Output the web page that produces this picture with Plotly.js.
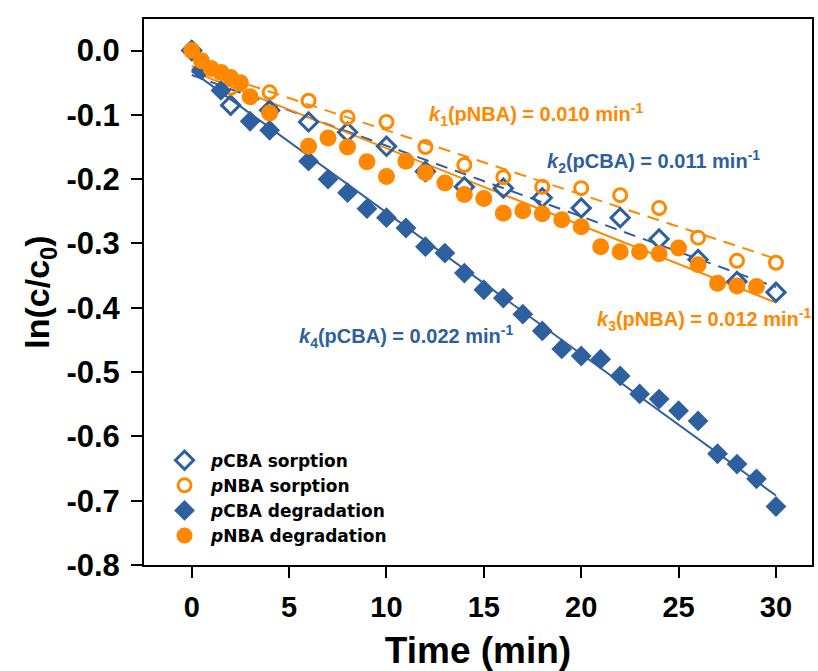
<!DOCTYPE html>
<html>
<head>
<meta charset="utf-8">
<script src="https://cdn.plot.ly/plotly-3.0.1.min.js"></script>
<style>html,body{margin:0;padding:0;background:#fff;}#chart{width:818px;height:671px;}</style>
</head>
<body>
<div id="chart"></div>
<script>
// ---- data ----
const timeSorpCBA = [0, 2, 4, 6, 8, 10, 12, 14, 16, 18, 20, 22, 24, 26, 28, 30];
const lnSorpCBA   = [0, -0.085, -0.093, -0.111, -0.127, -0.149, -0.188, -0.212, -0.214, -0.229, -0.245, -0.260, -0.293, -0.325, -0.359, -0.376];

const timeSorpNBA = [0, 2, 4, 6, 8, 10, 12, 14, 16, 18, 20, 22, 24, 26, 28, 30];
const lnSorpNBA   = [0, -0.058, -0.065, -0.078, -0.104, -0.111, -0.150, -0.178, -0.197, -0.212, -0.214, -0.225, -0.245, -0.291, -0.327, -0.330];

const timeDegCBA = [0, 0.5, 1.5, 3, 4, 6, 7, 8, 9, 10, 11, 12, 13, 14, 15, 16, 17, 18, 19, 20, 21, 22, 23, 24, 25, 26, 27, 28, 29, 30];
const lnDegCBA   = [0, -0.030, -0.062, -0.110, -0.124, -0.172, -0.200, -0.221, -0.246, -0.260, -0.276, -0.305, -0.315, -0.346, -0.372, -0.385, -0.410, -0.436, -0.464, -0.475, -0.480, -0.506, -0.534, -0.542, -0.560, -0.576, -0.627, -0.643, -0.666, -0.709];

const timeDegNBA = [0, 0.5, 1, 1.5, 2, 2.5, 3, 4, 6, 7, 8, 9, 10, 11, 12, 13, 14, 15, 16, 17, 18, 19, 20, 21, 22, 23, 24, 25, 26, 27, 28, 29];
const lnDegNBA   = [0, -0.016, -0.028, -0.034, -0.042, -0.050, -0.072, -0.097, -0.149, -0.136, -0.150, -0.173, -0.196, -0.172, -0.190, -0.206, -0.224, -0.230, -0.253, -0.249, -0.254, -0.263, -0.274, -0.305, -0.313, -0.313, -0.316, -0.307, -0.333, -0.362, -0.366, -0.367];

// linear fit lines (end values)
const fitTime = [0, 30];
const fitK1 = [-0.024, -0.324]; // pNBA sorption
const fitK2 = [-0.038, -0.368]; // pCBA sorption
const fitK3 = [-0.032, -0.392]; // pNBA degradation
const fitK4 = [-0.032, -0.692]; // pCBA degradation

const legendNames = ['<i>p</i>CBA sorption', '<i>p</i>NBA sorption', '<i>p</i>CBA degradation', '<i>p</i>NBA degradation'];
const rateLabels = [
  '<b><i>k</i><sub>1</sub>(pNBA) = 0.010 min<sup>-1</sup></b>',
  '<b><i>k</i><sub>2</sub>(pCBA) = 0.011 min<sup>-1</sup></b>',
  '<b><i>k</i><sub>3</sub>(pNBA) = 0.012 min<sup>-1</sup></b>',
  '<b><i>k</i><sub>4</sub>(pCBA) = 0.022 min<sup>-1</sup></b>'
];
const xTicks = [0, 5, 10, 15, 20, 25, 30];
const yTicks = [0, -0.1, -0.2, -0.3, -0.4, -0.5, -0.6, -0.7, -0.8];

// ---- styling ----
const BLUE = '#2E5F9E';
const ORANGE = '#FF8800';
const FONT = 'Liberation Sans, Arial, sans-serif';
const LEGFONT = 'DejaVu Sans, Liberation Sans, Arial, sans-serif';

function fit(y, color, dash) {
  return {x: fitTime, y: y, mode: 'lines', showlegend: false, hoverinfo: 'skip',
          line: {color: color, width: 2, dash: dash}};
}

const traces = [
  fit(fitK1, ORANGE, '12px,8px'),
  fit(fitK2, BLUE, '12px,8px'),
  fit(fitK3, ORANGE, 'solid'),
  fit(fitK4, BLUE, 'solid'),
  {x: timeSorpCBA, y: lnSorpCBA, mode: 'markers', name: legendNames[0],
   marker: {symbol: 'diamond-open', size: 14, color: BLUE, line: {width: 3, color: BLUE}}},
  {x: timeSorpNBA, y: lnSorpNBA, mode: 'markers', name: legendNames[1],
   marker: {symbol: 'circle-open', size: 13, color: ORANGE, line: {width: 3, color: ORANGE}}},
  {x: timeDegCBA, y: lnDegCBA, mode: 'markers', name: legendNames[2],
   marker: {symbol: 'diamond', size: 16, color: BLUE}},
  {x: timeDegNBA, y: lnDegNBA, mode: 'markers', name: legendNames[3],
   marker: {symbol: 'circle', size: 17, color: ORANGE}}
];

const annotations = [
  {x: 12.1, y: -0.100, text: rateLabels[0], color: ORANGE},
  {x: 18.15, y: -0.173, text: rateLabels[1], color: BLUE},
  {x: 20.7, y: -0.419, text: rateLabels[2], color: ORANGE},
  {x: 5.4, y: -0.445, text: rateLabels[3], color: BLUE}
].map(a => ({x: a.x, y: a.y, xref: 'x', yref: 'y', text: a.text, showarrow: false,
             xanchor: 'left', yanchor: 'middle', font: {family: FONT, size: 20, color: a.color}}));

const layout = {
  width: 818, height: 671,
  margin: {l: 144, r: 6, t: 19, b: 106},
  paper_bgcolor: '#ffffff', plot_bgcolor: '#ffffff',
  font: {family: FONT, color: '#000'},
  showlegend: true,
  legend: {x: 0.021, y: 0.224, xanchor: 'left', yanchor: 'top', bgcolor: 'rgba(0,0,0,0)',
           tracegroupgap: 0, itemwidth: 43, traceorder: 'normal',
           font: {family: LEGFONT, size: 17, color: '#000', weight: 'bold'}},
  xaxis: {range: [-2.45, 31.85], tickvals: xTicks, ticktext: xTicks.map(String),
          showgrid: false, zeroline: false, showline: true, linecolor: '#000', linewidth: 2, mirror: true,
          ticks: 'outside', ticklen: 11, tickwidth: 2, tickcolor: '#000', ticklabelstandoff: 4,
          tickfont: {family: FONT, size: 29, color: '#000', weight: 'bold'},
          title: {text: '<b>Time (min)</b>', font: {family: FONT, size: 37, color: '#000'}, standoff: 18}},
  yaxis: {range: [-0.8, 0.049], tickvals: yTicks, ticktext: yTicks.map(v => v.toFixed(1)),
          showgrid: false, zeroline: false, showline: true, linecolor: '#000', linewidth: 2, mirror: true,
          ticks: 'outside', ticklen: 11, tickwidth: 2, tickcolor: '#000', ticklabelstandoff: 5,
          tickfont: {family: FONT, size: 31, color: '#000', weight: 'bold'},
          title: {text: '<b>ln(c/c<sub>0</sub>)</b>', font: {family: FONT, size: 34, color: '#000'}, standoff: 6}},
  annotations: annotations
};

Plotly.newPlot('chart', traces, layout, {displayModeBar: false, staticPlot: true});
</script>
</body>
</html>
